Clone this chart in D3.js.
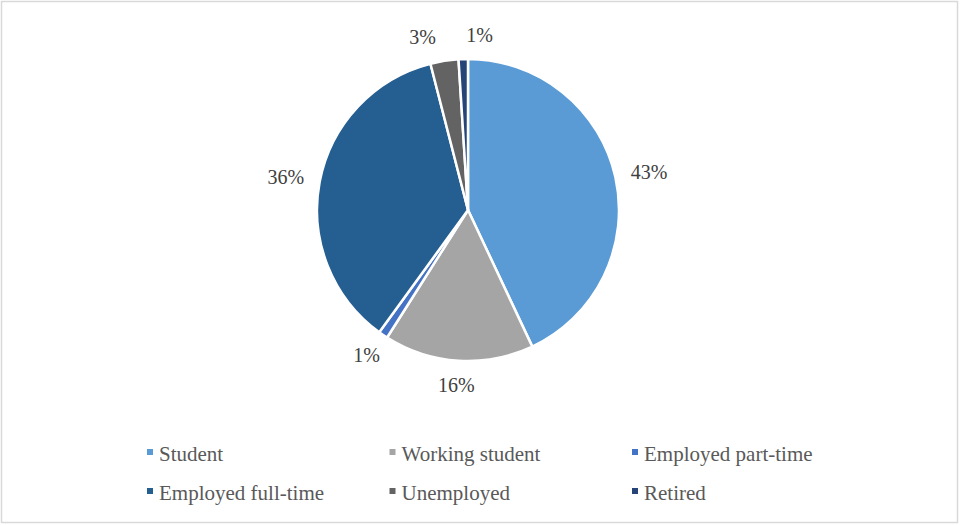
<!DOCTYPE html>
<html>
<head>
<meta charset="utf-8">
<script src="https://cdn.jsdelivr.net/npm/d3@7"></script>
<style>
  html, body { margin: 0; padding: 0; background: #fff; }
  svg { display: block; }
</style>
</head>
<body>
<svg id="chart" width="960" height="525"></svg>
<script>
// Occupation shares (percent)
const categories = ["Student", "Working student", "Employed part-time", "Employed full-time", "Unemployed", "Retired"];
const shares = [43, 16, 1, 36, 3, 1];
const sliceColors = ["#5B9BD5", "#A5A5A5", "#4472C4", "#255E91", "#636363", "#264478"];

const W = 960, H = 525;
const cx = 468, cy = 210, radius = 151;
const serif = "'Liberation Serif', 'Times New Roman', Tinos, 'DejaVu Serif', serif";

const svg = d3.select("#chart");

// outer frame
svg.append("rect")
  .attr("x", 1.5).attr("y", 1.5)
  .attr("width", W - 4).attr("height", H - 4)
  .attr("fill", "#fff")
  .attr("stroke", "#d9d9d9")
  .attr("stroke-width", 1.5);

const data = categories.map((c, i) => ({ name: c, value: shares[i], color: sliceColors[i] }));

const pie = d3.pie().value(d => d.value).sort(null);
const arcs = pie(data);
const arc = d3.arc().innerRadius(0).outerRadius(radius);

const g = svg.append("g").attr("transform", `translate(${cx},${cy})`);

g.selectAll("path.slice")
  .data(arcs)
  .join("path")
  .attr("class", "slice")
  .attr("d", arc)
  .attr("fill", d => d.data.color)
  .attr("stroke", "#fff")
  .attr("stroke-width", 2.5)
  .attr("stroke-linejoin", "round");

// outside-end data labels
const labelFont = 20;
const gap = 16;
const labels = arcs.map(a => {
  const mid = (a.startAngle + a.endAngle) / 2;
  const s = Math.sin(mid), c = Math.cos(mid);
  const text = d3.format(".0f")(a.data.value) + "%";
  const w = text.length === 3 ? 37 : 27;
  const h = 16;
  const px = (radius + gap) * s, py = -(radius + gap) * c;
  return { text, w, h, x: px + (w / 2) * s, y: py - (h / 2) * c };
});

// push apart labels whose boxes overlap
for (let iter = 0; iter < 50; iter++) {
  for (let i = 0; i < labels.length; i++) {
    for (let j = i + 1; j < labels.length; j++) {
      const a = labels[i], b = labels[j];
      const dx = b.x - a.x, dy = b.y - a.y;
      const needX = (a.w + b.w) / 2 + 30;
      if (Math.abs(dy) < (a.h + b.h) / 2 && Math.abs(dx) < needX) {
        const push = (needX - Math.abs(dx)) / 2 * (dx >= 0 ? 1 : -1);
        a.x -= push; b.x += push;
      }
    }
  }
}

g.selectAll("text.lbl")
  .data(labels)
  .join("text")
  .attr("class", "lbl")
  .attr("x", d => d.x)
  .attr("y", d => d.y)
  .attr("text-anchor", "middle")
  .attr("dominant-baseline", "central")
  .attr("font-family", serif)
  .attr("font-size", labelFont)
  .attr("fill", "#404040")
  .text(d => d.text);

// legend: 3 columns, 2 rows
const legendX = d3.scalePoint().domain([0, 1, 2]).range([159, 644]);
const legendY = d3.scalePoint().domain([0, 1]).range([461, 500]);

const lg = svg.append("g")
  .selectAll("g")
  .data(data)
  .join("g")
  .attr("transform", (d, i) => `translate(${legendX(i % 3)},${legendY(Math.floor(i / 3))})`);

lg.append("rect")
  .attr("x", -12).attr("y", -12)
  .attr("width", 6).attr("height", 6)
  .attr("fill", d => d.color);

lg.append("text")
  .attr("x", 0).attr("y", 0)
  .attr("font-family", serif)
  .attr("font-size", 21)
  .attr("fill", "#595959")
  .text(d => d.name);
</script>
</body>
</html>
